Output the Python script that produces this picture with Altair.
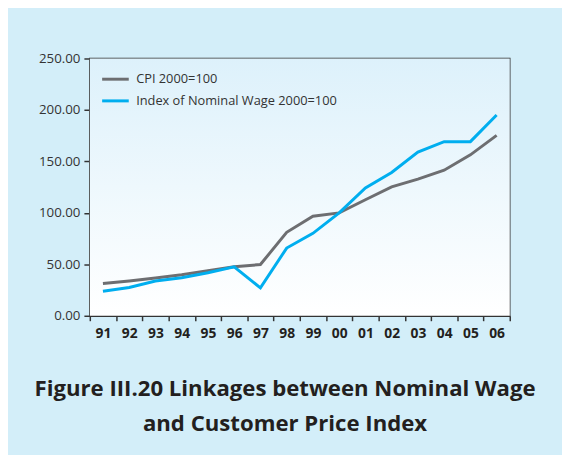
import altair as alt
import pandas as pd

years = ["91", "92", "93", "94", "95", "96", "97", "98", "99", "00", "01", "02", "03", "04", "05", "06"]
cpi = [31.3, 33.8, 36.7, 39.9, 43.7, 47.6, 49.8, 81.1, 96.7, 100.0, 112.7, 125.2, 132.8, 141.5, 156.4, 175.3]
wage = [23.9, 27.5, 33.8, 37.0, 41.8, 47.6, 27.1, 65.8, 80.1, 100.0, 124.2, 139.2, 159.0, 169.2, 169.2, 195.1]
series_names = ["CPI 2000=100", "Index of Nominal Wage 2000=100"]
y_ticks = [0, 50, 100, 150, 200, 250]
title_lines = ["Figure III.20 Linkages between Nominal Wage", "and Customer Price Index"]

df = pd.DataFrame({
    "year": years * 2,
    "value": cpi + wage,
    "series": [series_names[0]] * len(years) + [series_names[1]] * len(years),
})

W, H = 426, 261

bg = alt.Chart(pd.DataFrame({"a": [0]})).mark_rect(
    color=alt.Gradient(
        gradient="linear",
        stops=[alt.GradientStop(color="#ddf1fb", offset=0),
               alt.GradientStop(color="#ffffff", offset=1)],
        x1=0, x2=0, y1=0, y2=1,
    )
).encode(x=alt.value(0), x2=alt.value(W), y=alt.value(0), y2=alt.value(H))

lines = alt.Chart(df).mark_line(strokeWidth=3).encode(
    x=alt.X("year:O", sort=years, bandPosition=0.5,
            scale=alt.Scale(type="band", paddingInner=0, paddingOuter=0),
            axis=alt.Axis(title=None, tickBand="extent", tickSize=5, labelAngle=0,
                          labelFont="Open Sans", labelFontWeight="bold",
                          labelFontSize=14, labelColor="#231f20", labelPadding=6,
                          domainColor="#333333", tickColor="#333333",
                          domainWidth=1.5, tickWidth=1.5)),
    y=alt.Y("value:Q", scale=alt.Scale(domain=[0, 250]),
            axis=alt.Axis(title=None, values=y_ticks, format=".2f", grid=False, tickSize=6,
                          labelFont="Open Sans", labelFontSize=13.5, labelColor="#333333",
                          labelPadding=4, domainColor="#333333", tickColor="#333333",
                          domainWidth=1.5, tickWidth=1.5)),
    color=alt.Color("series:N", sort=series_names,
                    scale=alt.Scale(domain=series_names, range=["#6d6e71", "#00aeef"]),
                    legend=alt.Legend(title=None, orient="none", legendX=11, legendY=6,
                                      symbolType="stroke", symbolSize=729, symbolStrokeWidth=3,
                                      rowPadding=-3, labelFont="Open Sans", labelFontSize=13,
                                      labelColor="#333333", labelOffset=6, labelLimit=400)),
)

chart = alt.layer(bg, lines).properties(
    width=W, height=H,
    background="#d3eef9",
    autosize=alt.AutoSizeParams(type="none"),
    padding={"left": 83, "top": 48, "right": 53, "bottom": 138},
    title=alt.TitleParams(text=title_lines, orient="bottom", anchor="middle", frame="group",
                          dx=-15, offset=38, font="Open Sans", fontSize=22.5, fontWeight="bold",
                          color="#231f20", lineHeight=36, baseline="top"),
).configure_view(stroke="#333333", strokeWidth=1.5)

chart.save("out.html", embed_options={"renderer": "svg", "actions": False})
